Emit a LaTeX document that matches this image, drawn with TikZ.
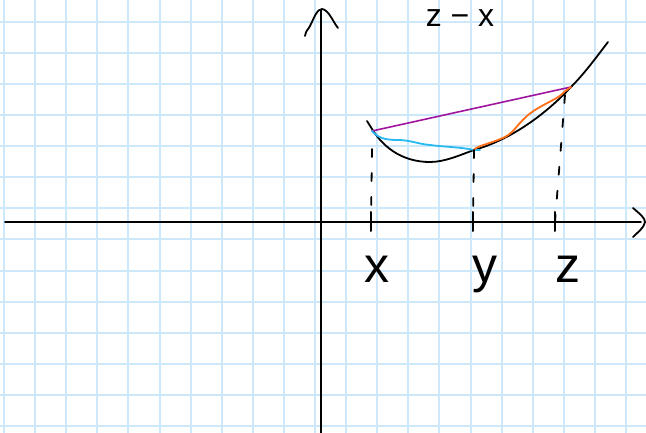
\documentclass[tikz,border=0pt]{standalone}
\usepackage{fontspec}
\setmainfont{Liberation Sans}
\definecolor{gridblue}{RGB}{204,232,250}
\definecolor{chord}{RGB}{160,20,160}
\definecolor{bluepart}{RGB}{40,185,240}
\definecolor{orangepart}{RGB}{255,110,20}
\begin{document}
\begin{tikzpicture}[x=1pt,y=-1pt,
  gridline/.style={draw=gridblue,line width=2pt},
  axisline/.style={draw=black,line width=1.8pt,line cap=round,line join=round},
  penline/.style={line width=1.8pt,line cap=round,line join=round},
  guide/.style={draw=black,line width=1.8pt,dash pattern=on 8pt off 16pt,line cap=round},
  tickmark/.style={draw=black,line width=2pt,line cap=round},
  lbl/.style={font=\fontsize{50}{50}\selectfont,anchor=base,inner sep=0pt}]
\useasboundingbox (0,0) rectangle (646,433);
\fill[white] (0,0) rectangle (646,433);
% grid
\foreach \i in {0,...,20} \draw[gridline] ({4+31.1*\i},0) -- ({4+31.1*\i},433);
\foreach \j in {0,...,13} \draw[gridline] (0,{21.7+31.1*\j}) -- (646,{21.7+31.1*\j});
% axes
\coordinate (xl) at (5,222);
\coordinate (xr) at (641,222);
\coordinate (yb) at (321,433);
\coordinate (yt) at (321,10);
\draw[axisline] (xl) -- (xr);
\draw[axisline] (yb) -- (yt);
\draw[axisline] (633,208) .. controls (640,214) and (645,218) .. (645,222) .. controls (644,228) and (638,232) .. (633,237);
\draw[axisline] (305,36) .. controls (306,30) and (308,30) .. (310,26) .. controls (314,18) and (317,9) .. (322,9) .. controls (329,10) and (333,22) .. (338,28);
% points
\coordinate (px) at (372,131);
\coordinate (py) at (474,150);
\coordinate (pz) at (571,87);
% curve
\draw[penline] (367,121) -- (372,129) .. controls (385,150) and (405,162) .. (430,162)
  .. controls (445,162) and (460,155) .. (py)
  .. controls (510,140) and (545,115) .. (pz)
  .. controls (585,73) and (598,55) .. (608,42);
% chord
\draw[penline,draw=chord,line width=1.6pt] (px) -- (pz);
% blue piece
\draw[penline,draw=bluepart] (px) .. controls (378,138) and (385,140) .. (398,140)
  .. controls (410,140) and (418,144) .. (430,145)
  .. controls (445,147) and (460,147) .. (py) -- (480,150);
% orange piece
\draw[penline,draw=orangepart] (py) .. controls (476,146) and (490,144) .. (505,137)
  .. controls (515,132) and (518,122) .. (532,112)
  .. controls (545,103) and (560,98) .. (564,92) -- (pz);
% ticks
\coordinate (tx) at (371,222);
\coordinate (ty) at (473,222);
\coordinate (tz) at (555,222);
\foreach \t in {tx,ty,tz} \draw[tickmark] ([yshift=-9pt]\t) -- ([yshift=10pt]\t);
% guide lines
\draw[guide] (px) ++(0,18) -- (tx);
\draw[guide] (py) -- (ty);
\draw[guide] (565,95) -- (tz);
% labels
\node[lbl] (lx) at (377,283) {x};
\node[lbl] (ly) at (485,283) {y};
\node[lbl] (lz) at (568,283) {z};
\node[lbl,font=\fontsize{32}{32}\selectfont] (title) at (460,27) {z − x};
\end{tikzpicture}
\end{document}
